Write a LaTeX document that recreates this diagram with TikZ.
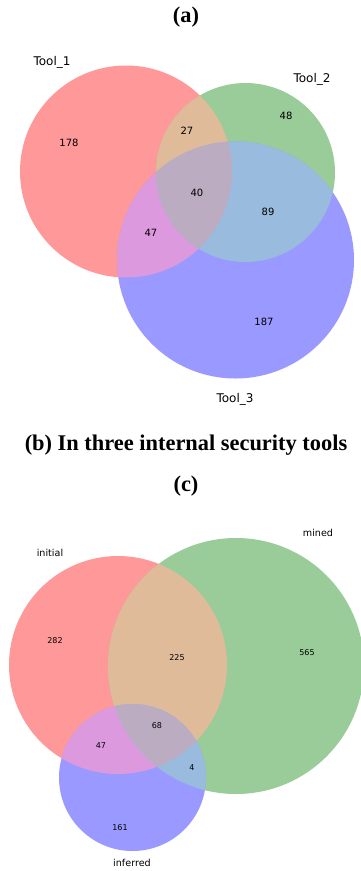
\documentclass[tikz,border=0pt]{standalone}
\usepackage{fontspec}
\setmainfont{Liberation Serif}
\newfontfamily\vennfont{DejaVu Sans}

% region colours of a three-set Venn diagram
\definecolor{setA}{HTML}{FF9999}
\definecolor{setB}{HTML}{99CC99}
\definecolor{setC}{HTML}{9999FF}
\definecolor{setAB}{HTML}{DFBB99}
\definecolor{setAC}{HTML}{DD99DD}
\definecolor{setBC}{HTML}{99BBDD}
\definecolor{setABC}{HTML}{BCACC2}

\tikzset{
  caption/.style={font=\bfseries\fontsize{22.4}{25}\selectfont, inner sep=0pt, anchor=base},
  setlabel/.style={font=\vennfont\fontsize{12}{14}\selectfont, inner sep=0pt},
  count/.style={font=\vennfont\fontsize{10}{12}\selectfont, inner sep=0pt},
  setlabelc/.style={font=\vennfont\fontsize{9.6}{11}\selectfont, inner sep=0pt},
  countc/.style={font=\vennfont\fontsize{8}{10}\selectfont, inner sep=0pt},
}

% draws the seven coloured regions of three circles given as paths
\newcommand{\vennthree}[3]{%
  \fill[setA] #1; \fill[setB] #2; \fill[setC] #3;
  \begin{scope}\clip #1; \fill[setAB] #2; \end{scope}
  \begin{scope}\clip #1; \fill[setAC] #3; \end{scope}
  \begin{scope}\clip #2; \fill[setBC] #3; \end{scope}
  \begin{scope}\clip #1; \clip #2; \fill[setABC] #3; \end{scope}
}

\begin{document}
\begin{tikzpicture}[x=1pt,y=-1pt]
\useasboundingbox (0,0) rectangle (360,871);

% ---------- panel (a) ----------
\node[caption] (capa) at (186,22) {(a)};
\vennthree{(126,171.5) circle[radius=106pt]}
          {(245.5,172.5) circle[radius=89.5pt]}
          {(235.5,260) circle[radius=118.5pt]}
\node[setlabel] (t1) at (52,62) {Tool\_1};
\node[setlabel] (t2) at (312,79) {Tool\_2};
\node[setlabel] (t3) at (235,399) {Tool\_3};
\node[count] (a100) at (69,143) {178};
\node[count] (a110) at (187,131) {27};
\node[count] (a010) at (286,116) {48};
\node[count] (a111) at (197,193) {40};
\node[count] (a011) at (268,212) {89};
\node[count] (a101) at (151,233) {47};
\node[count] (a001) at (264,322) {187};
\node[caption] (capb) at (186,450.5) {(b) In three internal security tools};

% ---------- panel (c) ----------
\node[caption] (capc) at (186,491.5) {(c)};
\vennthree{(118,665) circle[radius=109pt]}
          {(236,666) circle[radius=128pt]}
          {(132.5,777.5) circle[radius=73.5pt]}
\node[setlabelc] (ini) at (50,553) {initial};
\node[setlabelc] (min) at (318,533) {mined};
\node[setlabelc] (inf) at (132,863) {inferred};
\node[countc] (c100) at (55,641) {282};
\node[countc] (c110) at (177,658) {225};
\node[countc] (c010) at (307,653) {565};
\node[countc] (c111) at (157,726) {68};
\node[countc] (c101) at (101,746) {47};
\node[countc] (c011) at (192,768) {4};
\node[countc] (c001) at (120,828) {161};
\end{tikzpicture}
\end{document}
